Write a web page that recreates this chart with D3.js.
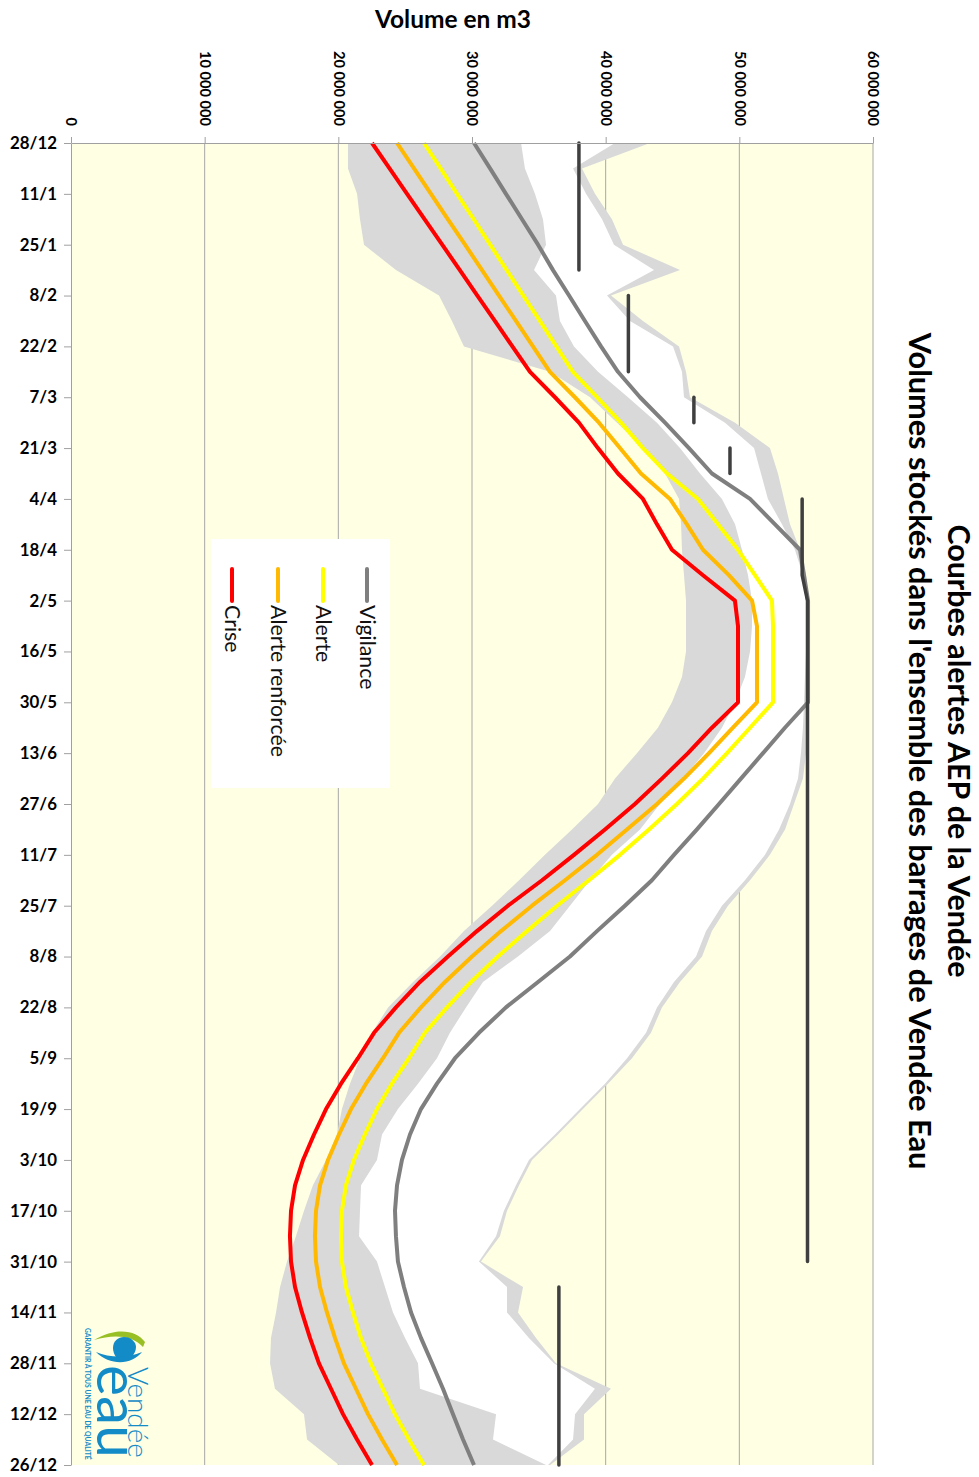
<!DOCTYPE html>
<html><head><meta charset="utf-8">
<script src="https://cdn.jsdelivr.net/npm/d3@7"></script>
<style>body{margin:0;background:#fff;} svg{display:block;}</style>
</head><body>
<svg id="chart" width="979" height="1477"></svg>
<script>
// ---------- DATA (volumes in millions of m3) ----------
const weeks = ["28/12","4/1","11/1","18/1","25/1","1/2","8/2","15/2","22/2","29/2","7/3","14/3","21/3","28/3",
  "4/4","11/4","18/4","25/4","2/5","9/5","16/5","23/5","30/5","6/6","13/6","20/6","27/6","4/7","11/7","18/7",
  "25/7","1/8","8/8","15/8","22/8","29/8","5/9","12/9","19/9","26/9","3/10","10/10","17/10","24/10","31/10",
  "7/11","14/11","21/11","28/11","5/12","12/12","19/12","26/12"];
const dateTickLabels = ["28/12","11/1","25/1","8/2","22/2","7/3","21/3","4/4","18/4","2/5","16/5","30/5","13/6",
  "27/6","11/7","25/7","8/8","22/8","5/9","19/9","3/10","17/10","31/10","14/11","28/11","12/12","26/12"];
const volumeTicks = [0,10,20,30,40,50,60];

const crise = [22.52,23.83,25.14,26.46,27.77,29.09,30.40,31.71,33.02,34.34,36.21,38.00,39.42,40.92,42.79,43.84,
  44.96,47.28,49.67,49.90,49.90,49.90,49.90,47.95,46.16,44.21,42.19,39.95,37.63,35.24,32.69,30.37,28.20,26.11,
  24.31,22.67,21.47,20.20,19.08,18.18,17.36,16.76,16.46,16.38,16.46,16.76,17.28,17.88,18.55,19.45,20.35,21.40,22.52];
const alerteRenforcee = [24.39,25.66,26.93,28.20,29.48,30.75,32.02,33.29,34.56,35.83,37.70,39.50,41.07,42.64,44.81,
  46.08,47.28,49.22,50.95,51.32,51.32,51.32,51.32,49.52,47.73,45.86,43.84,41.59,39.35,36.96,34.49,32.17,30.00,
  27.98,26.18,24.54,23.34,22.07,20.95,20.05,19.23,18.63,18.33,18.25,18.33,18.63,19.15,19.75,20.42,21.32,22.22,23.27,24.39];
const alerte = [26.41,27.65,28.88,30.13,31.36,32.60,33.84,35.08,36.31,37.55,39.35,41.15,42.79,44.59,46.91,48.40,
  49.90,51.17,52.44,52.52,52.52,52.52,52.52,50.80,49.08,47.28,45.33,43.24,41.07,38.75,36.36,34.11,31.94,29.92,
  28.13,26.48,25.29,24.01,22.89,21.99,21.17,20.57,20.27,20.20,20.27,20.57,21.10,21.69,22.44,23.34,24.24,25.29,26.41];
const vigilance = [30.15,31.35,32.54,33.74,34.94,36.06,37.26,38.45,39.65,40.92,42.57,44.44,46.23,47.95,50.80,52.67,
  54.54,54.84,55.14,55.14,55.14,55.14,55.14,53.41,51.77,50.12,48.48,46.83,45.11,43.46,41.44,39.35,37.33,34.94,
  32.54,30.52,28.73,27.38,26.18,25.36,24.76,24.39,24.24,24.31,24.46,24.91,25.44,26.18,27.01,27.83,28.58,29.33,30.15];

// historical envelope: min, lower bound of white band, upper bound of white band, max
const histMin = [20.72,20.72,21.40,21.62,21.92,24.31,27.53,28.50,29.40,35.84,38.83,40.85,42.79,44.44,45.49,45.64,
  45.71,45.86,46.01,46.01,46.01,45.71,44.96,43.91,42.34,40.70,39.43,37.48,35.46,33.52,31.50,29.40,27.61,25.59,
  23.72,22.52,21.62,20.87,20.27,19.90,19.08,18.10,17.43,16.83,16.16,15.64,15.34,14.96,14.89,15.26,17.43,17.66,20.05];
const histLow = [33.67,33.96,34.71,35.31,35.54,34.64,36.28,36.58,37.63,39.43,41.67,43.84,45.56,47.06,48.70,49.68,
  50.20,50.65,50.95,50.95,50.80,50.42,49.68,48.70,47.36,45.79,44.06,42.57,40.47,38.83,37.33,35.84,33.44,30.82,
  29.55,28.35,27.38,25.96,24.46,23.27,22.89,21.70,21.62,21.55,22.89,23.49,24.09,24.99,25.96,26.11,31.80,31.57,35.54];
const histHigh = [40.70,37.56,38.53,39.73,40.62,43.62,40.10,41.82,45.04,45.71,45.86,48.93,51.10,51.62,52.14,53.19,
  54.16,54.76,54.99,54.99,54.99,54.91,54.84,54.76,54.61,54.39,53.79,52.97,51.92,50.42,48.70,47.51,46.76,45.11,
  43.84,43.02,41.60,39.95,38.08,36.21,34.26,33.29,32.39,31.80,30.52,32.62,32.62,34.26,36.13,39.20,37.71,37.56,35.69];
const histMax = [43.32,38.23,39.20,40.47,41.30,45.56,40.40,42.79,45.49,46.01,46.31,49.68,52.29,52.89,53.34,53.79,
  54.54,54.99,55.14,55.14,55.14,55.14,55.14,55.06,54.99,54.76,54.09,53.42,52.29,50.80,49.15,47.95,47.21,45.56,
  44.21,43.39,41.97,40.17,38.30,36.43,34.49,33.52,32.62,32.09,30.67,33.82,33.44,34.79,36.28,40.40,38.38,38.38,35.84];

// stepped capacity line (dark), with breaks before these week indices
const capacity = [38.0,38.0,38.0,38.0,38.0,38.0, 41.7,41.7,41.7,41.7, 46.6,46.6, 49.3,49.3, 54.7,54.7,54.7,54.7,
  55.1,55.1,55.1,55.1,55.1,55.1,55.1,55.1,55.1,55.1,55.1,55.1,55.1,55.1,55.1,55.1,55.1,55.1,55.1,55.1,55.1,55.1,
  55.1,55.1,55.1,55.1,55.1, 36.5,36.5,36.5,36.5,36.5,36.5,36.5,36.5];
const capacityBreaks = [6,10,12,14,45];

const legendItems = [
  {label:"Vigilance", color:"#7f7f7f"},
  {label:"Alerte", color:"#ffff00"},
  {label:"Alerte renforcée", color:"#ffb900"},
  {label:"Crise", color:"#ff0000"}
];

// ---------- CHART ----------
const FONT = "Lato, 'Open Sans', 'DejaVu Sans', sans-serif";
const svg = d3.select("#chart");
const plot = {left:71, right:873, top:143, bottom:1465};
const x = d3.scaleLinear().domain([0,60]).range([plot.left, plot.right]);
const y = d3.scalePoint().domain(weeks).range([plot.top, plot.bottom]);

function fitLen(sel, target){
  sel.each(function(){
    const n = this; const fs = parseFloat(getComputedStyle(n).fontSize);
    const len = n.getComputedTextLength();
    if(len>0) d3.select(n).style("font-size", (fs*target/len)+"px");
  });
}

svg.append("rect").attr("x",plot.left).attr("y",plot.top)
  .attr("width",plot.right-plot.left).attr("height",plot.bottom-plot.top).attr("fill","#ffffe4");

svg.append("g").selectAll("line").data(volumeTicks.slice(1)).join("line")
  .attr("x1",d=>x(d)).attr("x2",d=>x(d)).attr("y1",plot.top).attr("y2",plot.bottom)
  .attr("stroke","#a8a8a8").attr("stroke-width",1);

const band = (lo,hi) => d3.area().y((d,i)=>y(weeks[i])).x0((d,i)=>x(lo[i])).x1((d,i)=>x(hi[i]));
svg.append("path").datum(weeks).attr("d",band(histMin,histMax)).attr("fill","#d9d9d9");
svg.append("path").datum(weeks).attr("d",band(histLow,histHigh)).attr("fill","#ffffff");

const lineOf = arr => d3.line().x((d,i)=>x(arr[i])).y((d,i)=>y(weeks[i]));
[[vigilance,"#7f7f7f"],[alerte,"#ffff00"],[alerteRenforcee,"#ffb900"],[crise,"#ff0000"]].forEach(([arr,c])=>{
  svg.append("path").datum(weeks).attr("d",lineOf(arr)).attr("fill","none").attr("stroke",c)
    .attr("stroke-width",4).attr("stroke-linejoin","round");
});

// capacity segments
const starts = [0].concat(capacityBreaks), ends = capacityBreaks.concat([weeks.length]);
starts.forEach((s,k)=>{
  const idx = d3.range(s, ends[k]);
  svg.append("path").datum(idx)
    .attr("d", d3.line().x(i=>x(capacity[i])).y(i=>y(weeks[i])))
    .attr("fill","none").attr("stroke","#3f3f3f").attr("stroke-width",3.5).attr("stroke-linecap","round");
});

// axes
const fmt = d => d3.format(",")(d*1e6).replace(/,/g," ");
const gx = svg.append("g").attr("transform",`translate(0,${plot.top})`)
  .call(d3.axisTop(x).tickValues(volumeTicks).tickSize(6).tickSizeOuter(0).tickFormat(fmt));
gx.select(".domain").attr("stroke","#a0a0a0");
gx.selectAll(".tick line").attr("stroke","#a0a0a0");
gx.selectAll(".tick text").attr("x",0).attr("y",0).attr("dy","0.35em")
  .attr("transform","translate(0,-17) rotate(90)").attr("text-anchor","end")
  .style("font-family",FONT).style("font-weight","700").style("font-size","14px").attr("fill","#000");
{
  const ref = gx.selectAll(".tick text").filter(d=>d===10).node();
  const fs = 14*75/ref.getComputedTextLength();
  gx.selectAll(".tick text").style("font-size",fs+"px");
}

const gy = svg.append("g").attr("transform",`translate(${plot.left},0)`)
  .call(d3.axisLeft(y).tickValues(dateTickLabels).tickSize(7).tickPadding(7).tickSizeOuter(0));
gy.select(".domain").attr("stroke","#a0a0a0");
gy.selectAll(".tick line").attr("stroke","#a0a0a0");
gy.selectAll(".tick text").style("font-family",FONT).style("font-weight","700").style("font-size","16px").attr("fill","#000");
{
  const ref = gy.selectAll(".tick text").filter(d=>d==="28/12").node();
  const fs = 16*47/ref.getComputedTextLength();
  gy.selectAll(".tick text").style("font-size",fs+"px");
}

// axis title
svg.append("text").attr("x",453).attr("y",28).attr("text-anchor","middle")
  .style("font-family",FONT).style("font-weight","700").style("font-size","20px").text("Volume en m3")
  .call(fitLen,156);

// main titles (rotated)
svg.append("text").attr("transform","translate(959,751) rotate(90)").attr("text-anchor","middle").attr("dy","0.35em")
  .style("font-family",FONT).style("font-weight","700").style("font-size","26px")
  .text("Courbes alertes AEP de la Vendée").call(fitLen,453);
svg.append("text").attr("transform","translate(920,751) rotate(90)").attr("text-anchor","middle").attr("dy","0.35em")
  .style("font-family",FONT).style("font-weight","700").style("font-size","26px")
  .text("Volumes stockés dans l'ensemble des barrages de Vendée Eau").call(fitLen,837);

// legend
const lg = svg.append("g");
lg.append("rect").attr("x",211).attr("y",539).attr("width",179).attr("height",249).attr("fill","#ffffff");
const legX = [367,323,278,232];
const items = lg.selectAll("g.item").data(legendItems).join("g").attr("class","item");
items.append("line").attr("x1",(d,i)=>legX[i]).attr("x2",(d,i)=>legX[i]).attr("y1",569).attr("y2",601)
  .attr("stroke",d=>d.color).attr("stroke-width",4).attr("stroke-linecap","round");
const legT = items.append("text").attr("transform",(d,i)=>`translate(${legX[i]},605) rotate(90)`)
  .attr("dy","0.35em").style("font-family",FONT).style("font-size","18px").attr("fill","#111").text(d=>d.label);
{
  const ref = legT.filter(d=>d.label==="Alerte renforcée").node();
  const fs = 18*152/ref.getComputedTextLength();
  legT.style("font-size",fs+"px");
}

// logo (rotated)
const logo = svg.append("g").attr("transform","translate(146,1325) rotate(90)");
logo.append("path").attr("d","M17,1 C5,10 2,30 15,52 C9,32 10,14 22,3 Z").attr("fill","#98bf24");
logo.append("path").attr("d","M22,10 C30,10 36,18 36,22 C36,28 30,33 23,33 C16,33 12,28 12,22 C12,15 17,10 22,10 Z").attr("fill","#138bc6");
logo.append("path").attr("d","M27,4 C40,14 41,36 27,50 C33,36 33,18 27,4 Z").attr("fill","#138bc6");
logo.append("text").attr("x",42).attr("y",18).style("font-family",FONT).style("font-weight","300")
  .style("font-size","20px").attr("fill","#138bc6").text("Vendée").call(fitLen,91);
logo.append("text").attr("x",40).attr("y",49).style("font-family",FONT).style("font-weight","400")
  .style("font-size","56px").attr("fill","#138bc6").text("eau").call(fitLen,93);
logo.append("text").attr("x",3).attr("y",61).style("font-family",FONT).style("font-weight","700")
  .style("font-size","6px").attr("fill","#138bc6").text("GARANTIR À TOUS UNE EAU DE QUALITÉ").call(fitLen,132);
</script>
</body></html>
